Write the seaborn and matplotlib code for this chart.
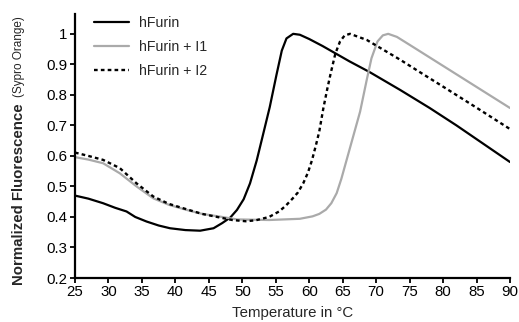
import matplotlib
matplotlib.use("Agg")
import matplotlib.pyplot as plt
import seaborn as sns
import pandas as pd

# Data
furin_t = [25, 27, 29.2, 31, 32.7, 34, 35.7, 37.5, 39.2, 41.5, 43.7, 45.7, 47, 48.2, 49.2,
           50.2, 51.15, 52.15, 53.1, 54.1, 55.1, 55.9, 56.6, 57.6, 58.6, 60, 62, 64, 66,
           69, 73.6, 78, 82, 86, 90]
furin_v = [0.47, 0.46, 0.445, 0.43, 0.418, 0.40, 0.385, 0.372, 0.363, 0.357, 0.355, 0.363, 0.38,
           0.398, 0.423, 0.458, 0.51, 0.585, 0.67, 0.76, 0.865, 0.945, 0.985, 1.0, 0.997, 0.983,
           0.96, 0.935, 0.91, 0.875, 0.816, 0.757, 0.70, 0.64, 0.58]

i1_t = [25, 27, 29.2, 31.7, 34.2, 36.7, 39, 41.7, 44, 46.7, 49.2, 54, 58.6, 60.5, 61.5, 62.5,
        63.3, 64.1, 64.8, 65.5, 66.2, 67.6, 68.6, 69.3, 70.2, 71, 71.8, 73.1, 75, 80, 85, 90]
i1_v = [0.596, 0.588, 0.576, 0.543, 0.5, 0.461, 0.44, 0.423, 0.41, 0.401, 0.392, 0.39, 0.394, 0.402,
        0.41, 0.424, 0.445, 0.478, 0.525, 0.58, 0.635, 0.745, 0.85, 0.92, 0.975, 0.995, 1.0, 0.99,
        0.964, 0.895, 0.826, 0.757]

i2_t = [25, 27, 29.2, 31.7, 34.2, 36.7, 39, 41.7, 44, 46.7, 48.5, 50.5, 52, 54, 55.5, 56.5,
        57.5, 58.3, 59.1, 59.8, 60.4, 61, 61.5, 62.1, 62.7, 63.2, 63.9, 64.6, 65.3, 66.1,
        68.6, 73.6, 77, 80, 85, 90]
i2_v = [0.611, 0.6, 0.587, 0.56, 0.51, 0.467, 0.443, 0.425, 0.41, 0.398, 0.39, 0.386, 0.389, 0.4,
        0.418, 0.437, 0.46, 0.48, 0.51, 0.545, 0.585, 0.635, 0.68, 0.755, 0.82, 0.87, 0.935,
        0.975, 0.995, 1.0, 0.98, 0.915, 0.868, 0.827, 0.758, 0.688]

labels = ["hFurin", "hFurin + I1", "hFurin + I2"]
x_ticks = [25, 30, 35, 40, 45, 50, 55, 60, 65, 70, 75, 80, 85, 90]
y_ticks = [0.2, 0.3, 0.4, 0.5, 0.6, 0.7, 0.8, 0.9, 1.0]
y_tick_labels = ["0.2", "0.3", "0.4", "0.5", "0.6", "0.7", "0.8", "0.9", "1"]

sns.set_style("ticks")
plt.rcParams['font.family'] = ['Liberation Sans', 'DejaVu Sans']

fig = plt.figure(figsize=(5.19, 3.22), dpi=100)
ax = fig.add_axes([75/519, 44/322, 435/519, 264/322])

styles = [
    dict(color="black", lw=1.6, ls="-"),
    dict(color="#aaaaaa", lw=1.6, ls="-"),
    dict(color="black", lw=1.7, ls=(0, (1.55, 1.35))),
]
for (t, v), lab, st in zip([(furin_t, furin_v), (i1_t, i1_v), (i2_t, i2_v)], labels, styles):
    df = pd.DataFrame({"T": t, "v": v})
    sns.lineplot(data=df, x="T", y="v", ax=ax, label=lab, sort=False, estimator=None,
                 color=st["color"], linewidth=st["lw"], linestyle=st["ls"])

ax.set_xlim(25, 90)
ax.set_ylim(0.2, 1.065)
ax.set_xticks(x_ticks)
ax.set_xticklabels([str(x) for x in x_ticks])
ax.set_yticks(y_ticks)
ax.set_yticklabels(y_tick_labels)
for s in ["top", "right"]:
    ax.spines[s].set_visible(False)
for s in ["left", "bottom"]:
    ax.spines[s].set_linewidth(1.6)
    ax.spines[s].set_color("black")
ax.tick_params(axis="both", direction="out", length=3.8, width=1.3, labelsize=10.8,
               colors="black", pad=1.5)

ax.set_xlabel("Temperature in °C", fontsize=10.8, labelpad=4.5)
ax.set_ylabel("")

fig.text(19/519, 1 - 285/322, "Normalized Fluorescence", rotation=90, fontsize=10.8,
         fontweight="bold", ha="center", va="bottom")
fig.text(19.5/519, 1 - 97/322, "(Sypro Orange)", rotation=90, fontsize=8.5,
         ha="center", va="bottom")

leg = ax.legend(loc="upper left", frameon=False, fontsize=10.2, handlelength=2.5,
                borderaxespad=0.3, labelspacing=0.72, handletextpad=0.7,
                bbox_to_anchor=(0.02, 1.03))

fig.savefig("out.png", dpi=100)
